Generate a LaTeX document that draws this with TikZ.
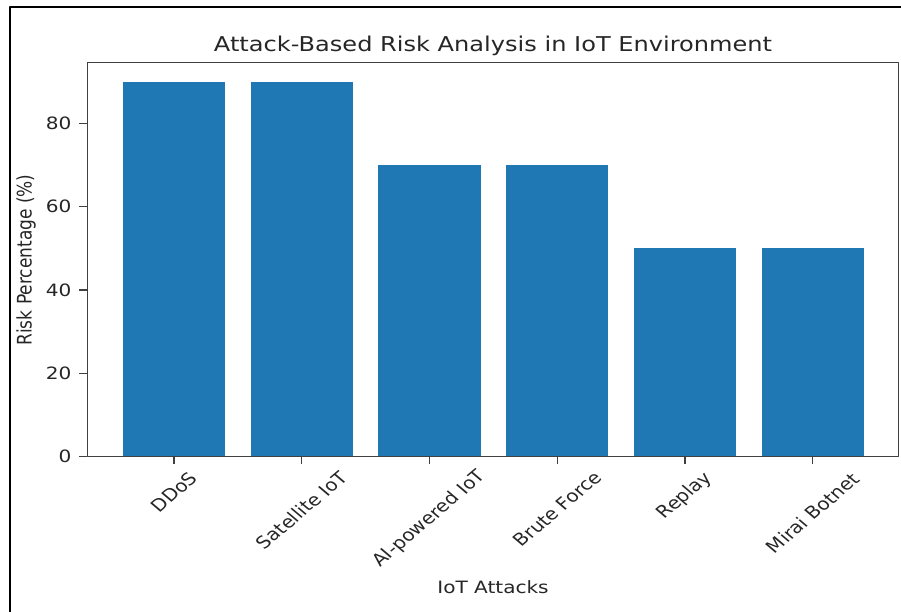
\documentclass[tikz,border=0pt]{standalone}
\usepackage{fontspec}
\setmainfont{DejaVu Sans}
\definecolor{barblue}{HTML}{1F77B4}
\definecolor{inkgray}{HTML}{262626}
\tikzset{
  spine/.style={line width=1.1pt, black!75},
  wide/.style={xscale=1.18},
  ticklab/.style={inner sep=0pt, text=inkgray}
}
\begin{document}
\begin{tikzpicture}[x=1pt, y=1pt, font=\fontsize{17}{20}\selectfont, line join=round, line cap=butt]
  \useasboundingbox (0,0) rectangle (901,612);
  % outer frame
  \draw[line width=1.7pt] (10,0) -- (10,605) -- (901,605);
  \begin{scope}[shift={(174,155.3)}, x=127.75pt, y=4.167pt]
    % bars
    \foreach \i/\v in {0/90,1/90,2/70,3/70,4/50,5/50}
      \fill[barblue] (\i-0.4,0) rectangle (\i+0.4,\v);
    \draw[spine] (-0.68,0) rectangle (5.67,94.5);
    % y ticks
    \foreach \t in {0,20,40,60,80}{
      \draw[spine] (-0.68,\t) -- ++(-8pt,0);
      \node[ticklab, wide, anchor=east] (ytick\t) at ([xshift=-15.5pt]-0.68,\t) {\t};
    }
    % x ticks
    \foreach \i/\lab/\dy in {0/DDoS/35.3, 1/Satellite IoT/53.3, 2/AI-powered IoT/62.3,
                             3/Brute Force/52.3, 4/Replay/39.3, 5/Mirai Botnet/56.3}{
      \draw[spine] (\i,0) -- ++(0,-7pt);
      \node[ticklab, wide, rotate=45] (xtick\i) at ([yshift=-\dy pt]\i,0) {\lab};
    }
  \end{scope}
  \node[text=inkgray, wide, anchor=base, font=\fontsize{20.4}{24}\selectfont] (title) at (493,560) {Attack-Based Risk Analysis in IoT Environment};
  \node[text=inkgray, wide, anchor=base] (xlabel) at (493,18.7) {IoT Attacks};
  \node[text=inkgray, wide, anchor=base, rotate=90] (ylabel) at (31.5,352) {Risk Percentage (\%)};
\end{tikzpicture}
\end{document}
